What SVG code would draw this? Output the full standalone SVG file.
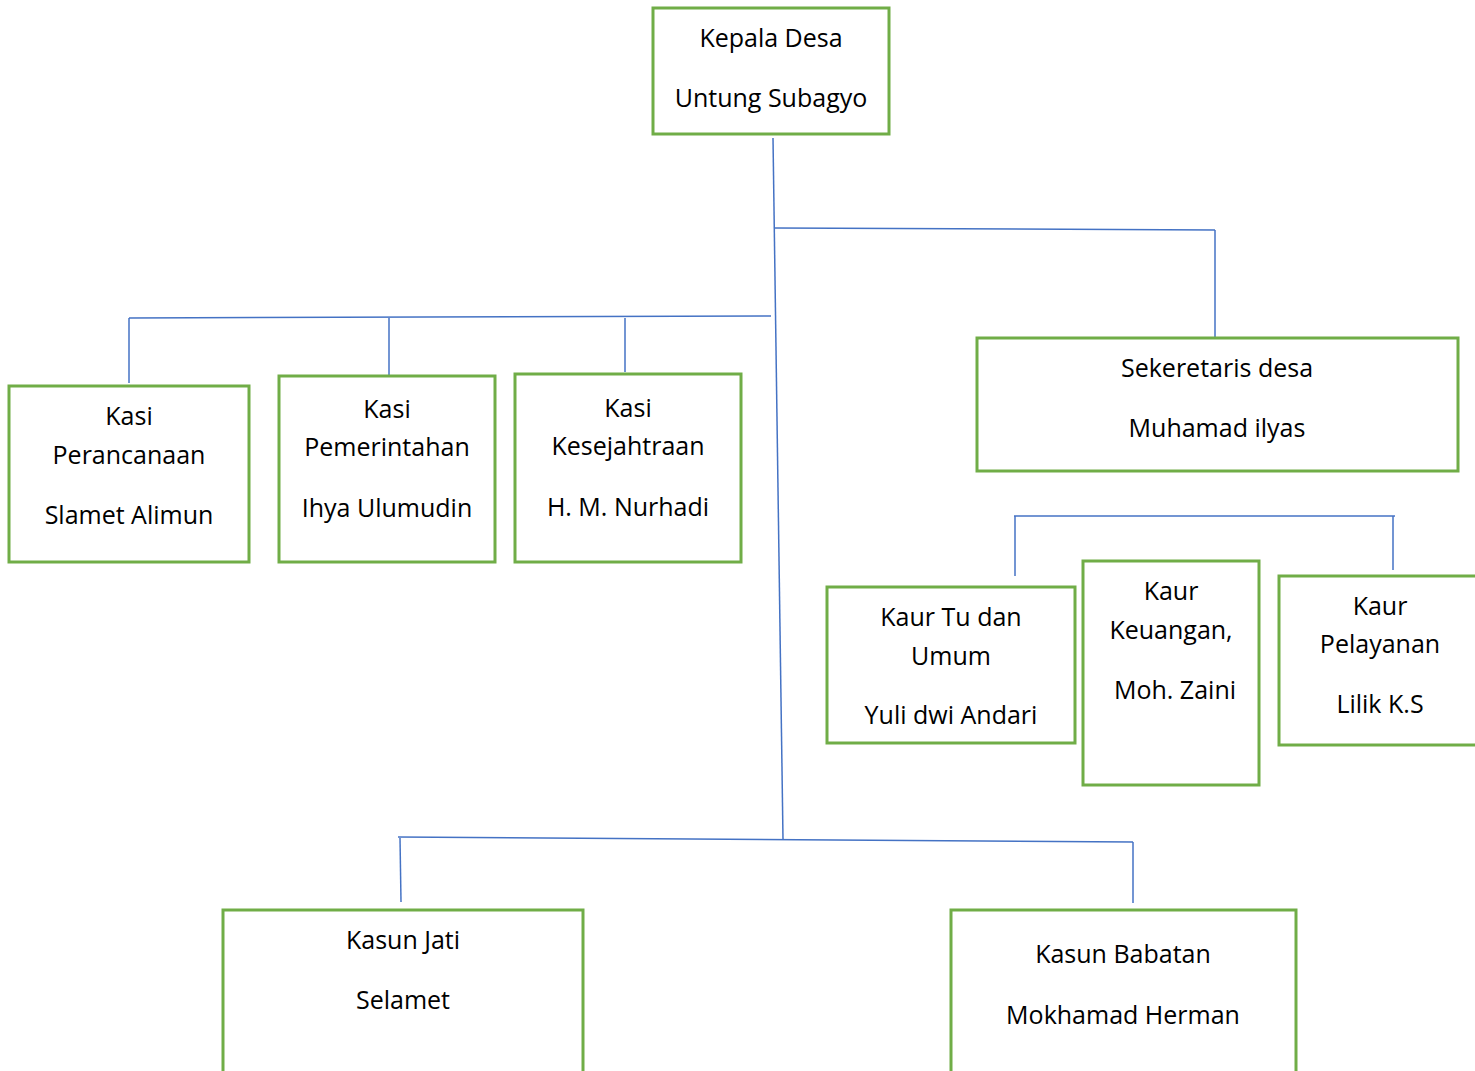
<svg xmlns="http://www.w3.org/2000/svg" width="1475" height="1071" viewBox="0 0 1475 1071">
<style>
.box{fill:#fff;stroke:#70AD47;stroke-width:3}
.t{font-family:"Open Sans","Liberation Sans",sans-serif;font-size:25px;fill:#000;text-anchor:middle}
.c{stroke:#4472C4;stroke-width:1.5;fill:none}
</style>
<rect width="1475" height="1071" fill="#fff"/>
<g id="connectors">
<line class="c" x1="773" y1="138" x2="783" y2="839"/>
<line class="c" x1="775" y1="228" x2="1215" y2="230"/>
<line class="c" x1="1215" y1="230" x2="1215" y2="337"/>
<line class="c" x1="129" y1="318" x2="771" y2="316"/>
<line class="c" x1="129" y1="318" x2="129" y2="383"/>
<line class="c" x1="389" y1="318" x2="389" y2="375"/>
<line class="c" x1="625" y1="318" x2="625" y2="372"/>
<line class="c" x1="1014" y1="516" x2="1395" y2="516"/>
<line class="c" x1="1015" y1="516" x2="1015" y2="576"/>
<line class="c" x1="1393" y1="516" x2="1393" y2="570"/>
<line class="c" x1="398" y1="837" x2="1133" y2="842"/>
<line class="c" x1="400" y1="838" x2="401" y2="902"/>
<line class="c" x1="1133" y1="842" x2="1133" y2="903"/>
</g>
<g id="kepala-desa">
<rect class="box" x="653" y="8" width="236" height="126"/>
<text class="t" x="771" y="47">Kepala Desa</text>
<text class="t" x="771" y="107">Untung Subagyo</text>
</g>
<g id="kasi-perancanaan">
<rect class="box" x="9" y="386" width="240" height="176"/>
<text class="t" x="129" y="425">Kasi</text>
<text class="t" x="129" y="464">Perancanaan</text>
<text class="t" x="129" y="524">Slamet Alimun</text>
</g>
<g id="kasi-pemerintahan">
<rect class="box" x="279" y="376" width="216" height="186"/>
<text class="t" x="387" y="418">Kasi</text>
<text class="t" x="387" y="456">Pemerintahan</text>
<text class="t" x="387" y="517">Ihya Ulumudin</text>
</g>
<g id="kasi-kesejahtraan">
<rect class="box" x="515" y="374" width="226" height="188"/>
<text class="t" x="628" y="417">Kasi</text>
<text class="t" x="628" y="455">Kesejahtraan</text>
<text class="t" x="628" y="516">H. M. Nurhadi</text>
</g>
<g id="sekretaris-desa">
<rect class="box" x="977" y="338" width="481" height="133"/>
<text class="t" x="1217" y="377">Sekeretaris desa</text>
<text class="t" x="1217" y="437">Muhamad ilyas</text>
</g>
<g id="kaur-tu">
<rect class="box" x="827" y="587" width="248" height="156"/>
<text class="t" x="951" y="626">Kaur Tu dan</text>
<text class="t" x="951" y="665">Umum</text>
<text class="t" x="951" y="724">Yuli dwi Andari</text>
</g>
<g id="kaur-keuangan">
<rect class="box" x="1083" y="561" width="176" height="224"/>
<text class="t" x="1171" y="600">Kaur</text>
<text class="t" x="1171" y="639">Keuangan,</text>
<text class="t" x="1175" y="699">Moh. Zaini</text>
</g>
<g id="kaur-pelayanan">
<rect class="box" x="1279" y="576" width="210" height="169"/>
<text class="t" x="1380" y="615">Kaur</text>
<text class="t" x="1380" y="653">Pelayanan</text>
<text class="t" x="1380" y="713">Lilik K.S</text>
</g>
<g id="kasun-jati">
<rect class="box" x="223" y="910" width="360" height="180"/>
<text class="t" x="403" y="949">Kasun Jati</text>
<text class="t" x="403" y="1009">Selamet</text>
</g>
<g id="kasun-babatan">
<rect class="box" x="951" y="910" width="345" height="180"/>
<text class="t" x="1123" y="963">Kasun Babatan</text>
<text class="t" x="1123" y="1024">Mokhamad Herman</text>
</g>
</svg>
